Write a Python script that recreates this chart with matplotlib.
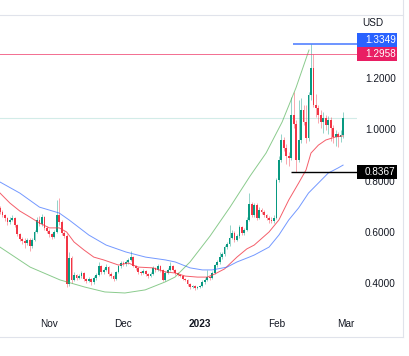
import matplotlib
matplotlib.use('Agg')
import matplotlib.pyplot as plt
from matplotlib.patches import Rectangle
from matplotlib.lines import Line2D
import numpy as np
import pandas as pd

# daily candles, first one is 2022-10-12
start = pd.Timestamp('2022-10-12')
first_open = 0.697

closes = [
    0.681, 0.669, 0.658, 0.642, 0.650, 0.658, 0.630, 0.595, 0.576, 0.568,
    0.560, 0.572, 0.548, 0.572, 0.603, 0.650, 0.634, 0.662, 0.619, 0.607,
    0.595, 0.583, 0.603, 0.669, 0.642, 0.599, 0.587, 0.400, 0.502, 0.416,
    0.435, 0.423, 0.431, 0.443, 0.420, 0.412, 0.420, 0.408, 0.423, 0.435,
    0.470, 0.447, 0.455, 0.466, 0.439, 0.431, 0.420, 0.447, 0.470, 0.482,
    0.478, 0.486, 0.494, 0.505, 0.470, 0.463, 0.447, 0.443, 0.451, 0.439,
    0.431, 0.439, 0.463, 0.455, 0.470, 0.455, 0.416, 0.443, 0.455, 0.470,
    0.455, 0.443, 0.435, 0.431, 0.420, 0.416, 0.400, 0.388, 0.392, 0.384,
    0.388, 0.392, 0.408, 0.416, 0.427, 0.423, 0.443, 0.474, 0.486, 0.505,
    0.517, 0.544, 0.556, 0.580, 0.599, 0.572, 0.587, 0.623, 0.599, 0.611,
    0.650, 0.712, 0.669, 0.708, 0.658, 0.689, 0.681, 0.669, 0.658, 0.650,
    0.646, 0.658, 0.806, 0.884, 0.962, 0.931, 0.900, 0.892, 1.060, 1.024,
    0.884, 0.962, 1.079, 1.032, 0.970, 1.138, 1.243, 1.099, 1.087, 1.060,
    1.032, 1.048, 1.021, 1.040, 1.009, 0.974, 0.985, 0.974, 0.982, 1.048,
]
highs = [
    0.705, 0.690, 0.675, 0.662, 0.660, 0.668, 0.662, 0.636, 0.600, 0.585,
    0.578, 0.580, 0.578, 0.578, 0.610, 0.660, 0.664, 0.672, 0.666, 0.626,
    0.615, 0.600, 0.610, 0.728, 0.735, 0.650, 0.605, 0.595, 0.525, 0.510,
    0.445, 0.440, 0.440, 0.450, 0.447, 0.425, 0.428, 0.425, 0.430, 0.442,
    0.485, 0.475, 0.462, 0.480, 0.470, 0.445, 0.436, 0.452, 0.476, 0.490,
    0.490, 0.495, 0.502, 0.530, 0.510, 0.476, 0.468, 0.452, 0.457, 0.455,
    0.444, 0.445, 0.470, 0.468, 0.478, 0.474, 0.460, 0.450, 0.462, 0.485,
    0.474, 0.460, 0.447, 0.440, 0.436, 0.425, 0.420, 0.404, 0.398, 0.396,
    0.394, 0.398, 0.414, 0.422, 0.455, 0.433, 0.450, 0.480, 0.494, 0.525,
    0.526, 0.552, 0.565, 0.630, 0.610, 0.605, 0.596, 0.632, 0.628, 0.620,
    0.660, 0.755, 0.720, 0.718, 0.715, 0.700, 0.695, 0.688, 0.675, 0.664,
    0.660, 0.668, 0.815, 0.900, 0.985, 0.975, 0.945, 0.915, 1.130, 1.150,
    1.040, 1.120, 1.126, 1.100, 1.098, 1.150, 1.3349, 1.297, 1.140, 1.100,
    1.080, 1.070, 1.060, 1.055, 1.050, 1.020, 1.000, 0.995, 1.000, 1.070,
]
lows = [
    0.672, 0.660, 0.645, 0.630, 0.636, 0.645, 0.622, 0.588, 0.566, 0.556,
    0.540, 0.552, 0.530, 0.542, 0.566, 0.598, 0.626, 0.628, 0.612, 0.598,
    0.585, 0.575, 0.578, 0.598, 0.630, 0.590, 0.578, 0.390, 0.392, 0.405,
    0.410, 0.415, 0.418, 0.425, 0.412, 0.405, 0.406, 0.398, 0.402, 0.415,
    0.430, 0.440, 0.440, 0.450, 0.432, 0.424, 0.412, 0.416, 0.442, 0.462,
    0.470, 0.472, 0.480, 0.488, 0.465, 0.456, 0.440, 0.436, 0.438, 0.433,
    0.425, 0.427, 0.435, 0.448, 0.450, 0.446, 0.410, 0.412, 0.438, 0.450,
    0.450, 0.437, 0.430, 0.426, 0.414, 0.410, 0.394, 0.382, 0.383, 0.378,
    0.380, 0.384, 0.388, 0.402, 0.410, 0.416, 0.418, 0.438, 0.466, 0.480,
    0.498, 0.510, 0.536, 0.550, 0.574, 0.565, 0.566, 0.580, 0.592, 0.592,
    0.605, 0.645, 0.660, 0.660, 0.650, 0.652, 0.672, 0.660, 0.650, 0.640,
    0.637, 0.640, 0.652, 0.800, 0.878, 0.920, 0.870, 0.860, 0.885, 1.010,
    0.837, 0.875, 0.950, 1.020, 0.950, 0.960, 1.120, 1.090, 1.050, 1.030,
    1.010, 0.990, 1.000, 0.985, 0.960, 0.950, 0.940, 0.935, 0.955, 0.970,
]

# moving averages (day offset, price)
ma_fast_days = [0, 4, 8, 12, 16, 20, 24, 27, 30, 34, 38, 42, 48, 52, 56, 62, 67, 71,
                75, 80, 84, 87, 91, 96, 100, 103, 109, 113, 117, 121, 124, 126, 129,
                132, 136, 139]
ma_fast = [0.755, 0.716, 0.685, 0.662, 0.638, 0.619, 0.619, 0.603, 0.564, 0.533,
           0.505, 0.494, 0.474, 0.482, 0.466, 0.463, 0.447, 0.443, 0.431, 0.427,
           0.427, 0.439, 0.459, 0.505, 0.537, 0.552, 0.603, 0.650, 0.728, 0.794,
           0.845, 0.911, 0.942, 0.962, 0.974, 0.978]
ma_slow_days = [0, 8, 16, 24, 28, 36, 43, 51, 59, 67, 71, 77, 82, 86, 92, 96, 101,
                103, 109, 113, 117, 121, 125, 129, 133, 137, 139]
ma_slow = [0.798, 0.755, 0.700, 0.677, 0.650, 0.591, 0.552, 0.525, 0.505, 0.494,
           0.486, 0.463, 0.455, 0.455, 0.466, 0.486, 0.505, 0.513, 0.544, 0.591,
           0.650, 0.697, 0.755, 0.794, 0.833, 0.853, 0.864]

# green arc drawing
arc_days = [0, 12.2, 24.3, 34.4, 42.5, 50.6, 58.8, 66.9, 70.9, 77.0, 85.1, 93.2,
            101.3, 107.8, 114.3, 119.9, 125.2]
arc_prices = [0.544, 0.466, 0.416, 0.388, 0.369, 0.365, 0.377, 0.408, 0.427, 0.486,
              0.587, 0.700, 0.821, 0.911, 1.032, 1.165, 1.313]

price_ticks = [0.4, 0.6, 0.8, 1.0, 1.2]
month_dates = ['2022-11-01', '2022-12-01', '2023-01-01', '2023-02-01', '2023-03-01']
month_labels = ['Nov', 'Dec', '2023', 'Feb', 'Mar']

swing_high = 1.3349
level = 1.2958
swing_low = 0.8367
line_start_day = 118

UP = '#089981'
DOWN = '#f23645'
TXT = '#131722'
FS = 7.2

plt.rcParams['font.family'] = ['Liberation Sans', 'DejaVu Sans']

fig = plt.figure(figsize=(4.09, 3.56), dpi=100)
fig.patch.set_facecolor('white')
ax = fig.add_axes([0, 51 / 356, 357 / 409, 290 / 356])
ax.set_xlim(0, 144.65)
ax.set_ylim(0.3181, 1.4498)
ax.axis('off')

days = np.arange(len(closes))
c = np.array(closes)
o = np.array([first_open] + closes[:-1])
cols = np.where(c >= o, UP, DOWN)

ax.vlines(days, lows, highs, colors=cols, lw=0.6, alpha=0.5, zorder=2)
ax.bar(days, np.maximum(np.abs(c - o), 0.004), bottom=np.minimum(o, c), width=0.72,
       color=cols, linewidth=0, zorder=3)

# last price line
ax.axhline(closes[-1], color=UP, lw=0.8, alpha=0.18, zorder=1)

ax.plot(ma_fast_days, ma_fast, color='#f23645', lw=0.7, alpha=0.8, zorder=4)
ax.plot(ma_slow_days, ma_slow, color='#2962ff', lw=0.7, alpha=0.65, zorder=4)
ax.plot(arc_days, arc_prices, color='#4caf50', lw=0.7, alpha=0.65, zorder=5)

ax.axhline(level, color='#ef3d6b', lw=0.7, alpha=0.75, zorder=5)
xr = ax.get_xlim()[1]
ax.hlines(swing_high, line_start_day + 0.7, xr, color='#2962ff', lw=1.2, alpha=0.8, zorder=5)
ax.hlines(swing_low, line_start_day, xr, color='black', lw=1.0, zorder=5)

ytr = ax.get_yaxis_transform()
lx = 365 / 357
for p in price_ticks:
    ax.text(lx, p, f'{p:.4f}', transform=ytr, ha='left', va='center',
            fontsize=FS, color=TXT, clip_on=False)

ax.text(362 / 357, (305 - 23) / 290, 'USD', transform=ax.transAxes, ha='left',
        va='center', fontsize=FS, color=TXT)

# price labels on the scale
bh = 14 / 256.25
boxes = [(level, '#e91e63'), (level + bh, '#2962ff'), (swing_low, '#000000')]
box_text = [f'{level:.4f}', f'{swing_high:.4f}', f'{swing_low:.4f}']
for (yc, col), t in zip(boxes, box_text):
    ax.add_patch(Rectangle((1.0, yc - bh / 2), 40 / 357, bh, transform=ytr,
                           facecolor=col, edgecolor='none', clip_on=False, zorder=8))
    ax.text(lx, yc, t, transform=ytr, ha='left', va='center', fontsize=FS,
            color='white', clip_on=False, zorder=9)

xtr = ax.get_xaxis_transform()
for d, lab in zip(month_dates, month_labels):
    off = (pd.Timestamp(d) - start).days
    ax.text(off, (305 - 324) / 290, lab, transform=xtr, ha='center', va='center',
            fontsize=FS, color=TXT, fontweight='bold' if lab == '2023' else 'normal',
            clip_on=False)

# chart frame
fc = '#e0e3eb'
fr = 403 / 409
fb = (356 - 337) / 356
ft = (356 - 15) / 356
fig.add_artist(Line2D([fr, fr], [fb, 1], color=fc, lw=0.8))
fig.add_artist(Line2D([0, fr], [fb, fb], color=fc, lw=0.8))
fig.add_artist(Line2D([0, fr], [ft, ft], color=fc, lw=0.8))

fig.savefig('out.png', dpi=100, facecolor='white')
